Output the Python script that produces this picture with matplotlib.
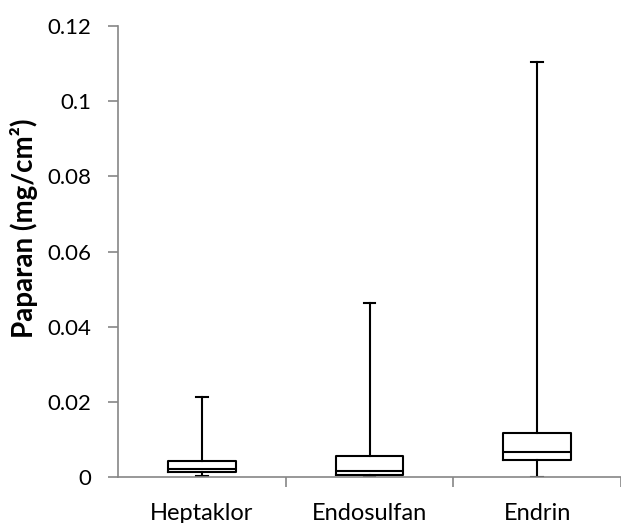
import matplotlib.pyplot as plt

# data
categories = ['Heptaklor', 'Endosulfan', 'Endrin']
whis_low = [0.0003, 0.0001, 0.0001]
q1 = [0.0012, 0.0005, 0.0045]
median = [0.0020, 0.0015, 0.0067]
q3 = [0.0042, 0.0057, 0.0116]
whis_high = [0.0214, 0.0462, 0.1105]
yticks = [0, 0.02, 0.04, 0.06, 0.08, 0.1, 0.12]
ytick_labels = ['0', '0.02', '0.04', '0.06', '0.08', '0.1', '0.12']

plt.rcParams['font.family'] = ['Lato', 'DejaVu Sans']

stats = []
for i, c in enumerate(categories):
    stats.append(dict(label=c, whislo=whis_low[i], q1=q1[i], med=median[i],
                      q3=q3[i], whishi=whis_high[i], fliers=[]))

fig = plt.figure(figsize=(6.21, 5.23), dpi=100)
ax = fig.add_axes([118 / 621, 46 / 523, 1 - 118 / 621, 451 / 523])

black = dict(color='black', linewidth=1.5)
ax.bxp(stats, positions=[1, 2, 3], widths=0.405, showfliers=False,
       boxprops=black, medianprops=black, whiskerprops=black,
       capprops=black, capwidths=0.07)

ax.set_xlim(0.5, 0.5 + 3 * (621 - 118) / 511)
ax.set_ylim(0, 0.12)
ax.set_yticks(yticks)
ax.set_yticklabels(ytick_labels)

# category labels centred, tick marks on category boundaries
ax.set_xticks([1.5, 2.5, 3.5])
ax.set_xticklabels([])
ax.set_xticks([1, 2, 3], minor=True)
ax.set_xticklabels(categories, minor=True)
ax.tick_params(axis='x', which='minor', length=0, pad=19, labelsize=17)
ax.tick_params(axis='x', which='major', length=7, color='#868686', width=1.2)
ax.tick_params(axis='y', length=7, color='#868686', width=1.2, labelsize=16, pad=12)

for s in ['top', 'right']:
    ax.spines[s].set_visible(False)
for s in ['left', 'bottom']:
    ax.spines[s].set_color('#868686')
    ax.spines[s].set_linewidth(1.2)

ax.set_ylabel('Paparan (mg/cm²)', fontsize=20, fontweight='bold')
ax.yaxis.set_label_coords(-0.159, 0.551)

fig.savefig('out.png', dpi=100)
